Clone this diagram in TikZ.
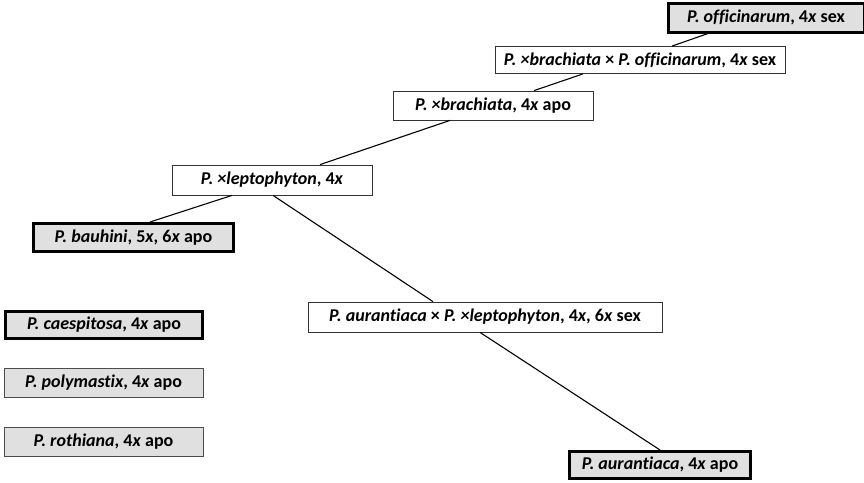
\documentclass[tikz,border=0pt]{standalone}
\usepackage{fontspec}
\setmainfont{Carlito}[Ligatures=NoCommon]
\definecolor{boxgray}{RGB}{224,224,224}
\def\ix{\textit{x}}

\begin{document}
\begin{tikzpicture}[x=1pt, y=-1pt, font=\bfseries\fontsize{18}{20}\selectfont,
    hyb/.style={draw=black!80, fill=white, line width=0.8pt, inner sep=0pt},
    spec/.style={draw=black!70, fill=boxgray, line width=0.8pt, inner sep=0pt},
    key/.style={draw=black, fill=boxgray, line width=3pt, inner sep=0pt},
    link/.style={line width=1.1pt}]
        \useasboundingbox (0,0) rectangle (864,482);
        \node[key, minimum width=196, minimum height=29] (off) at (766,17.5) {\textit{P. officinarum}, 4\ix{} sex};
        \node[hyb, minimum width=290, minimum height=27] (bo) at (640,60) {\textit{P. ×brachiata} × \textit{P. officinarum}, 4\ix{} sex};
        \node[hyb, minimum width=200, minimum height=29] (br) at (493,105.5) {\textit{P. ×brachiata}, 4\ix{} apo};
        \node[hyb, minimum width=200, minimum height=30] (lep) at (272,180) {\textit{P. ×leptophyton}, 4\ix};
        \node[key, minimum width=200, minimum height=28] (bau) at (133.5,237.5) {\textit{P. bauhini}, 5\ix, 6\ix{} apo};
        \node[key, minimum width=197, minimum height=27] (cae) at (104,324.5) {\textit{P. caespitosa}, 4\ix{} apo};
        \node[spec, minimum width=199, minimum height=29] (poly) at (103.5,382.5) {\textit{P. polymastix}, 4\ix{} apo};
        \node[spec, minimum width=199, minimum height=29] (roth) at (103.5,441.5) {\textit{P. rothiana}, 4\ix{} apo};
        \node[hyb, minimum width=354, minimum height=30] (al) at (485,317) {\textit{P. aurantiaca} × \textit{P. ×leptophyton}, 4\ix, 6\ix{} sex};
        \node[key, minimum width=181, minimum height=27] (aur) at (660,465) {\textit{P. aurantiaca}, 4\ix{} apo};
        % lines between the taxa
        \draw[link] ([xshift=-58]off.south) -- ([xshift=32]bo.north);
        \draw[link] ([xshift=-57]bo.south) -- ([xshift=41]br.north);
        \draw[link] ([xshift=-43]br.south) -- ([xshift=48]lep.north);
        \draw[link] ([xshift=-40]lep.south) -- ([xshift=16.5]bau.north);
        \draw[link] ([xshift=1]lep.south) -- ([xshift=-52]al.north);
        \draw[link] ([xshift=-5]al.south) -- (aur.north);
      \end{tikzpicture}
\end{document}
